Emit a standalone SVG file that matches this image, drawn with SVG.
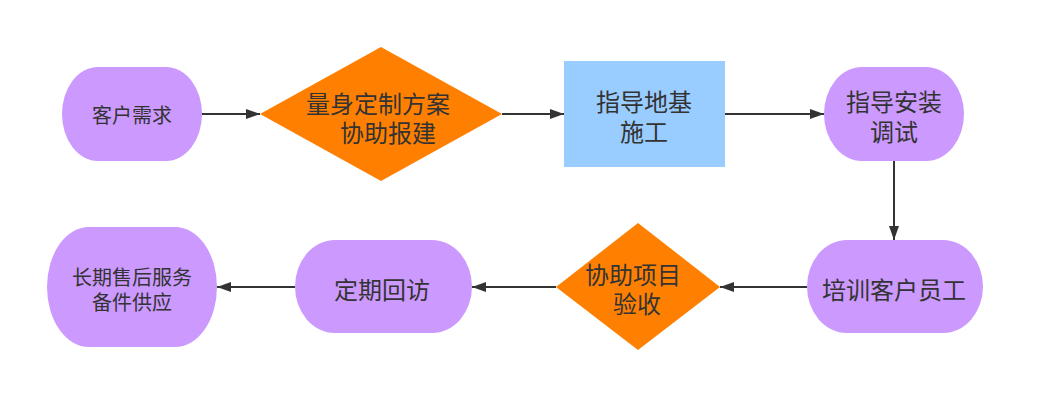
<svg xmlns="http://www.w3.org/2000/svg" width="1044" height="412" viewBox="0 0 1044 412">
<defs>
<marker id="ah" markerWidth="14" markerHeight="10" refX="14" refY="5" orient="auto" markerUnits="userSpaceOnUse">
<path d="M0,0 L14,5 L0,10 Z" fill="#333333"/>
</marker>
<style>
.t{font-family:"Noto Sans CJK SC","Noto Sans",sans-serif;fill:#333333;text-anchor:middle;dominant-baseline:central;font-size:24px}
.s{font-size:20px}
.p{fill:#CC99FF}
.o{fill:#FF8000}
.b{fill:#99CCFF}
.c{stroke:#333333;stroke-width:2;fill:none;marker-end:url(#ah)}
</style>
</defs>
<rect width="1044" height="412" fill="#ffffff"/>
<g id="connectors">
<line class="c" x1="202" y1="114" x2="260" y2="114"/>
<line class="c" x1="502" y1="114" x2="564" y2="114"/>
<line class="c" x1="725" y1="114" x2="824" y2="114"/>
<line class="c" x1="894" y1="161" x2="894" y2="240"/>
<line class="c" x1="807" y1="287" x2="720" y2="287"/>
<line class="c" x1="556" y1="287" x2="472" y2="287"/>
<line class="c" x1="295" y1="287" x2="217" y2="287"/>
</g>
<g id="n1">
<rect class="p" x="62" y="67" width="140" height="94" rx="36" ry="47"/>
<text class="t s" x="132" y="114">客户需求</text>
</g>
<g id="n2">
<polygon class="o" points="381,47 502,114 381,181 260,114"/>
<text class="t"><tspan x="378" y="102">量身定制方案</tspan><tspan x="388" y="131">协助报建</tspan></text>
</g>
<g id="n3">
<rect class="b" x="564" y="61" width="161" height="106"/>
<text class="t"><tspan x="644" y="100">指导地基</tspan><tspan x="644" y="130">施工</tspan></text>
</g>
<g id="n4">
<rect class="p" x="824" y="67" width="140" height="94" rx="38" ry="47"/>
<text class="t"><tspan x="894" y="100">指导安装</tspan><tspan x="894" y="130">调试</tspan></text>
</g>
<g id="n5">
<rect class="p" x="807" y="240" width="176" height="93" rx="40" ry="46.5"/>
<text class="t" x="894" y="288">培训客户员工</text>
</g>
<g id="n6">
<polygon class="o" points="638,223 720,287 638,350 556,287"/>
<text class="t"><tspan x="633" y="273">协助项目</tspan><tspan x="637" y="302">验收</tspan></text>
</g>
<g id="n7">
<rect class="p" x="295" y="240" width="177" height="93" rx="40" ry="46.5"/>
<text class="t" x="382" y="288">定期回访</text>
</g>
<g id="n8">
<rect class="p" x="47" y="227" width="170" height="120" rx="42" ry="60"/>
<text class="t s"><tspan x="132" y="276">长期售后服务</tspan><tspan x="132" y="301">备件供应</tspan></text>
</g>
</svg>
